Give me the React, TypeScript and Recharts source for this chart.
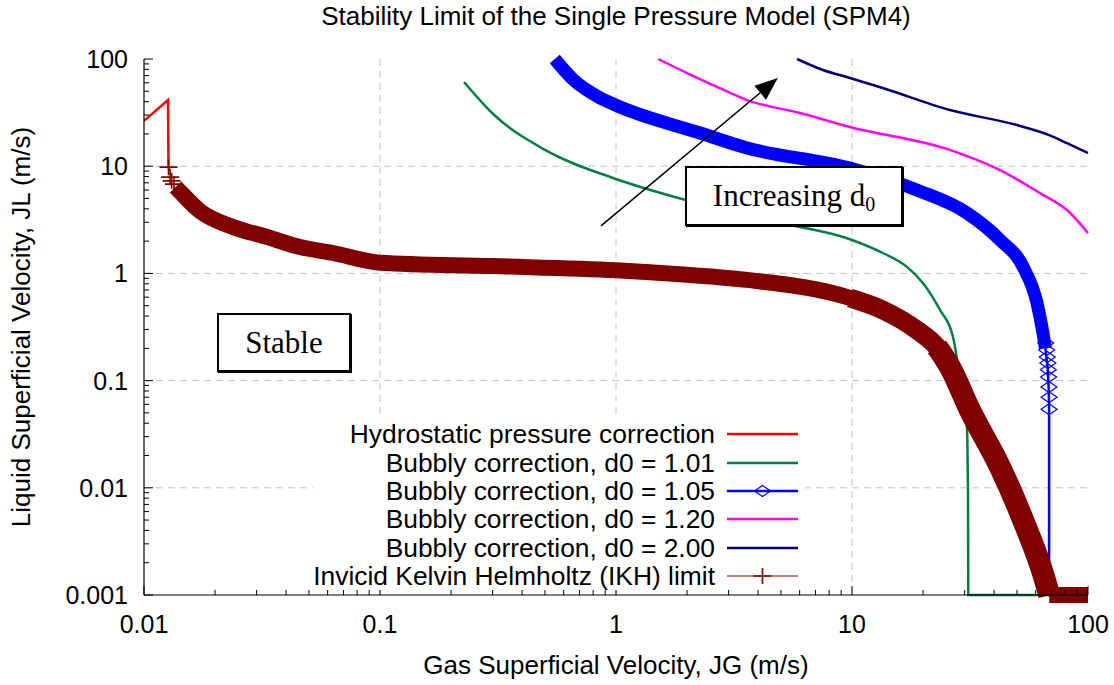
import React from 'react';
import {
  ComposedChart,
  Line,
  Scatter,
  XAxis,
  YAxis,
  CartesianGrid,
  Legend,
  ReferenceLine,
} from 'recharts';

const FONT = '"Liberation Sans", Arial, Helvetica, sans-serif';
const SERIF = '"Liberation Serif", "Times New Roman", serif';

// axes
const xMajor = [0.01, 0.1, 1, 10, 100];
const xLabels = ['0.01', '0.1', '1', '10', '100'];
const yMajor = [0.001, 0.01, 0.1, 1, 10, 100];
const yLabels = ['0.001', '0.01', '0.1', '1', '10', '100'];
const minorSteps = [2, 3, 4, 5, 6, 7, 8, 9];

// Hydrostatic pressure correction
const hydroJG = [0.01, 0.01264, 0.0127, 0.0128];
const hydroJL = [26.5, 41.4, 10, 9.2];

// Bubbly correction, d0 = 1.01
const d101JG = [0.227, 0.3, 0.5, 1.0, 2.0, 5.0, 10, 13.5, 17.1, 20, 23.6, 26.8, 28.7, 30.1, 30.8, 31];
const d101JL = [61, 31, 14.2, 7.6, 4.8, 2.95, 2.05, 1.55, 1.15, 0.81, 0.456, 0.255, 0.108, 0.066, 0.03, 0.01];
const d101FloorJG = [31, 31.1, 100];
const d101FloorJL = [0.01, 0.001, 0.001];

// Bubbly correction, d0 = 1.05 (dense marker band, then sparse tail)
const d105JG = [0.55, 0.66, 0.83, 1.0, 2.27, 3.59, 9.8, 18.8, 30.7, 42.4, 53.1, 60.8, 64.4, 66];
const d105JL = [100, 64, 45, 37, 20.4, 14.8, 9.6, 6.0, 3.66, 2.05, 1.15, 0.53, 0.28, 0.2];
const d105TailJG = [66, 67.5, 68.2, 68.4, 68.4, 100];
const d105TailJL = [0.2, 0.13, 0.08, 0.054, 0.001, 0.001];
const d105MarkJG = [66.2, 66.8, 67.2, 67.6, 67.9, 68.1, 68.3, 68.4, 68.4];
const d105MarkJL = [0.224, 0.193, 0.166, 0.146, 0.126, 0.108, 0.087, 0.07, 0.054];

// Bubbly correction, d0 = 1.20
const d120JG = [1.51, 2.0, 2.68, 3.59, 6.03, 9.8, 26, 42.4, 62.7, 81.5, 100];
const d120JL = [100, 74, 55, 41.4, 31.3, 23.2, 14.2, 9.2, 5.6, 3.9, 2.38];

// Bubbly correction, d0 = 2.00
const d200JG = [5.85, 7.53, 9.8, 13.5, 26, 50, 68.5, 81.5, 100];
const d200JL = [100, 78.9, 66.5, 53.7, 33.4, 24.2, 19.5, 16.4, 13.3];

// Invicid Kelvin Helmholtz limit
const ikhJG = [0.0136, 0.0142, 0.0173, 0.0238, 0.0332, 0.0458, 0.0632, 0.1, 0.3, 1.0, 2.0, 3.59, 9.8, 13.5, 18.8, 22.9, 26, 31.6, 42.4, 53.1, 64.4, 68.5];
const ikhJL = [6.4, 5.8, 3.8, 2.71, 2.19, 1.76, 1.55, 1.26, 1.17, 1.07, 0.97, 0.87, 0.59, 0.456, 0.297, 0.206, 0.134, 0.053, 0.0156, 0.005, 0.0016, 0.001];
// knee and steep part, where the crosses spread wider
const ikhKneeJG = [9.8, 13.5, 18.8, 22.9, 26];
const ikhKneeJL = [0.59, 0.456, 0.297, 0.206, 0.134];
const ikhSteepJG = [22.9, 26, 31.6, 42.4, 53.1, 64.4, 68.5];
const ikhSteepJL = [0.206, 0.134, 0.053, 0.0156, 0.005, 0.0016, 0.001];
const ikhFloorJG = [68.5, 100];
const ikhFloorJL = [0.001, 0.001];
const ikhStartJG = [0.0127, 0.0129, 0.0131, 0.0134];
const ikhStartJL = [9.8, 7.9, 7.3, 6.8];

const legendLabels = [
  'Hydrostatic pressure correction',
  'Bubbly correction, d0 = 1.01',
  'Bubbly correction, d0 = 1.05',
  'Bubbly correction, d0 = 1.20',
  'Bubbly correction, d0 = 2.00',
  'Invicid Kelvin Helmholtz (IKH) limit',
];
const colors = ['#ff0000', '#008040', '#0000ff', '#ff00ff', '#000080', '#800000'];

// annotation arrow (JG, JL)
const arrowFrom = [0.864, 2.77];
const arrowTo = [4.85, 66.5];

const pts = (xs: number[], ys: number[]) => xs.map((x, i) => ({ jg: x, jl: ys[i] }));

const xTicks = [...xMajor, ...xMajor.slice(0, -1).flatMap((d) => minorSteps.map((m) => d * m))];
const yTicks = [...yMajor, ...yMajor.slice(0, -1).flatMap((d) => minorSteps.map((m) => d * m))];

const labelFor = (v: number, majors: number[], labels: string[]) => {
  const i = majors.findIndex((m) => Math.abs(Math.log10(m) - Math.log10(v)) < 1e-6);
  return i >= 0 ? labels[i] : null;
};

const BottomTick = (p: any) => {
  const label = labelFor(p.payload.value, xMajor, xLabels);
  return (
    <g>
      <line x1={p.x} x2={p.x} y1={p.y} y2={p.y - (label ? 9 : 5)} stroke="#000" />
      {label && (
        <text x={p.x} y={p.y + 38} textAnchor="middle" fontSize={25} fontFamily={FONT} fill="#000">
          {label}
        </text>
      )}
    </g>
  );
};

const TopTick = (p: any) => {
  const major = labelFor(p.payload.value, xMajor, xLabels);
  return <line x1={p.x} x2={p.x} y1={p.y} y2={p.y + (major ? 9 : 5)} stroke="#000" />;
};

const LeftTick = (p: any) => {
  const label = labelFor(p.payload.value, yMajor, yLabels);
  return (
    <g>
      <line x1={p.x} x2={p.x + (label ? 9 : 5)} y1={p.y} y2={p.y} stroke="#000" />
      {label && (
        <text x={p.x - 16} y={p.y} dy="0.36em" textAnchor="end" fontSize={25} fontFamily={FONT} fill="#000">
          {label}
        </text>
      )}
    </g>
  );
};

const RightTick = (p: any) => {
  const major = labelFor(p.payload.value, yMajor, yLabels);
  return <line x1={p.x} x2={p.x - (major ? 9 : 5)} y1={p.y} y2={p.y} stroke="#000" />;
};

const Diamond = (p: any) => (
  <polygon
    points={`${p.cx - 8},${p.cy} ${p.cx},${p.cy - 5.5} ${p.cx + 8},${p.cy} ${p.cx},${p.cy + 5.5}`}
    fill="none"
    stroke="#0000ff"
    strokeWidth={1.2}
  />
);

const Plus = (p: any) => (
  <path d={`M${p.cx - 9},${p.cy}H${p.cx + 9}M${p.cx},${p.cy - 8}V${p.cy + 8}`} stroke="#800000" strokeWidth={1.6} />
);

const Arrow = (p: any) => {
  const { x1, y1, x2, y2 } = p;
  const a = Math.atan2(y2 - y1, x2 - x1);
  const len = 23;
  const hw = 9;
  const bx = x2 - len * Math.cos(a);
  const by = y2 - len * Math.sin(a);
  const nx = -Math.sin(a) * hw;
  const ny = Math.cos(a) * hw;
  return (
    <g>
      <line x1={x1} y1={y1} x2={bx} y2={by} stroke="#000" strokeWidth={1.6} />
      <polygon points={`${x2},${y2} ${bx + nx},${by + ny} ${bx - nx},${by - ny}`} fill="#000" />
    </g>
  );
};

const KeySample = ({ i }: { i: number }) => (
  <svg width={71} height={28} style={{ marginLeft: 12, display: 'block' }}>
    <line x1={0} x2={71} y1={14} y2={14} stroke={colors[i]} strokeWidth={i === 5 ? 1.5 : 2.5} opacity={i === 5 ? 0.65 : 1} />
    {i === 2 && <Diamond cx={35.5} cy={14} />}
    {i === 5 && <Plus cx={35.5} cy={14} />}
  </svg>
);

const KeyBox = () => (
  <div style={{ background: '#fff', width: 492, height: 172, paddingTop: 2, boxSizing: 'border-box' }}>
    {legendLabels.map((label, i) => (
      <div key={label} style={{ display: 'flex', alignItems: 'center', height: 28.4 }}>
        <span
          style={{
            width: 402,
            textAlign: 'right',
            fontSize: 26.4,
            fontFamily: FONT,
            whiteSpace: 'nowrap',
            lineHeight: '28px',
            color: '#000',
          }}
        >
          {label}
        </span>
        <KeySample i={i} />
      </div>
    ))}
  </div>
);

const boxStyle: React.CSSProperties = {
  position: 'absolute',
  boxSizing: 'border-box',
  border: '2px solid #000',
  boxShadow: '1px 1px 0 #000',
  background: '#fff',
  display: 'flex',
  alignItems: 'center',
  justifyContent: 'center',
  fontFamily: SERIF,
  fontSize: 31,
  color: '#000',
};

export default function App() {
  const logX = { type: 'number' as const, scale: 'log' as const, domain: [0.01, 100], ticks: xTicks, interval: 0 };
  const logY = { type: 'number' as const, scale: 'log' as const, domain: [0.001, 100], ticks: yTicks, interval: 0 };
  const line = { dot: false, isAnimationActive: false, dataKey: 'jl' };
  return (
    <div style={{ position: 'absolute', left: 0, top: 0, width: 1114, height: 685, background: '#fff' }}>
      <ComposedChart width={1114} height={685} margin={{ top: 59, right: 26, bottom: 0, left: 0 }}>
        <CartesianGrid
          stroke="#c4c4c4"
          strokeDasharray="7 5"
          verticalValues={[0.1, 1, 10]}
          horizontalValues={[0.01, 0.1, 1, 10]}
        />
        <XAxis
          {...logX}
          dataKey="jg"
          height={90}
          tickSize={0}
          tickMargin={0}
          tickLine={false}
          axisLine={{ stroke: '#000', strokeWidth: 1.2 }}
          tick={(p: any) => <BottomTick {...p} />}
          label={{ value: 'Gas Superficial Velocity, JG (m/s)', position: 'insideBottom', offset: 11, fontSize: 26, fill: '#000', fontFamily: FONT }}
        />
        <XAxis
          {...logX}
          xAxisId="top"
          orientation="top"
          height={0}
          tickSize={0}
          tickMargin={0}
          tickLine={false}
          axisLine={{ stroke: '#000', strokeWidth: 1.2 }}
          tick={(p: any) => <TopTick {...p} />}
        />
        <YAxis
          {...logY}
          dataKey="jl"
          width={144}
          tickSize={0}
          tickMargin={0}
          tickLine={false}
          axisLine={{ stroke: '#000', strokeWidth: 1.2 }}
          tick={(p: any) => <LeftTick {...p} />}
          label={{
            content: (lp: any) => {
              const vb = lp.viewBox;
              const cx = vb.x + 21;
              const cy = vb.y + vb.height / 2;
              return (
                <text
                  x={cx}
                  y={cy}
                  dy="0.355em"
                  transform={`rotate(-90, ${cx}, ${cy})`}
                  textAnchor="middle"
                  fontSize={26}
                  fontFamily={FONT}
                  fill="#000"
                >
                  Liquid Superficial Velocity, JL (m/s)
                </text>
              );
            },
          }}
        />
        <YAxis
          {...logY}
          yAxisId="right"
          orientation="right"
          width={0}
          tickSize={0}
          tickMargin={0}
          tickLine={false}
          axisLine={{ stroke: '#000', strokeWidth: 1.2 }}
          tick={(p: any) => <RightTick {...p} />}
        />

        <Line {...line} data={pts(hydroJG, hydroJL)} type="linear" stroke={colors[0]} strokeWidth={2.5} name={legendLabels[0]} />
        <Line {...line} data={pts(d101JG, d101JL)} type="monotone" stroke={colors[1]} strokeWidth={2.5} name={legendLabels[1]} />
        <Line {...line} data={pts(d101FloorJG, d101FloorJL)} type="linear" stroke={colors[1]} strokeWidth={2.5} legendType="none" />
        <Line {...line} data={pts(d105JG, d105JL)} type="monotone" stroke={colors[2]} strokeWidth={13} name={legendLabels[2]} />
        <Line {...line} data={pts(d105TailJG, d105TailJL)} type="linear" stroke={colors[2]} strokeWidth={2.5} legendType="none" />
        <Scatter data={pts(d105MarkJG, d105MarkJL)} dataKey="jl" shape={(p: any) => <Diamond {...p} />} isAnimationActive={false} legendType="none" />
        <Line {...line} data={pts(d120JG, d120JL)} type="monotone" stroke={colors[3]} strokeWidth={2.5} name={legendLabels[3]} />
        <Line {...line} data={pts(d200JG, d200JL)} type="monotone" stroke={colors[4]} strokeWidth={2.5} name={legendLabels[4]} />
        <Line {...line} data={pts(ikhJG, ikhJL)} type="monotone" stroke={colors[5]} strokeWidth={16} name={legendLabels[5]} />
        <Line {...line} data={pts(ikhKneeJG, ikhKneeJL)} type="monotone" stroke={colors[5]} strokeWidth={19} legendType="none" />
        <Line {...line} data={pts(ikhSteepJG, ikhSteepJL)} type="monotone" stroke={colors[5]} strokeWidth={22} legendType="none" />
        <Line {...line} data={pts(ikhFloorJG, ikhFloorJL)} type="linear" stroke={colors[5]} strokeWidth={16} legendType="none" />
        <Scatter data={pts(ikhStartJG, ikhStartJL)} dataKey="jl" shape={(p: any) => <Plus {...p} />} isAnimationActive={false} legendType="none" />

        <ReferenceLine
          segment={[
            { x: arrowFrom[0], y: arrowFrom[1] },
            { x: arrowTo[0], y: arrowTo[1] },
          ]}
          shape={(p: any) => <Arrow {...p} />}
        />

        <Legend
          layout="vertical"
          align="center"
          verticalAlign="middle"
          content={() => <KeyBox />}
          wrapperStyle={{ left: 313, top: 418, width: 492, height: 172 }}
        />
      </ComposedChart>

      <svg width={1114} height={40} style={{ position: 'absolute', left: 0, top: 0, pointerEvents: 'none' }}>
        <text x={616} y={25} textAnchor="middle" fontSize={26} fontFamily={FONT} fill="#000">
          Stability Limit of the Single Pressure Model (SPM4)
        </text>
      </svg>

      <div style={{ ...boxStyle, left: 217, top: 313, width: 134, height: 59 }}>Stable</div>
      <div style={{ ...boxStyle, left: 685, top: 166, width: 218, height: 60 }}>
        <span>
          Increasing d
          <span style={{ fontSize: 20, position: 'relative', top: 5 }}>0</span>
        </span>
      </div>
    </div>
  );
}
